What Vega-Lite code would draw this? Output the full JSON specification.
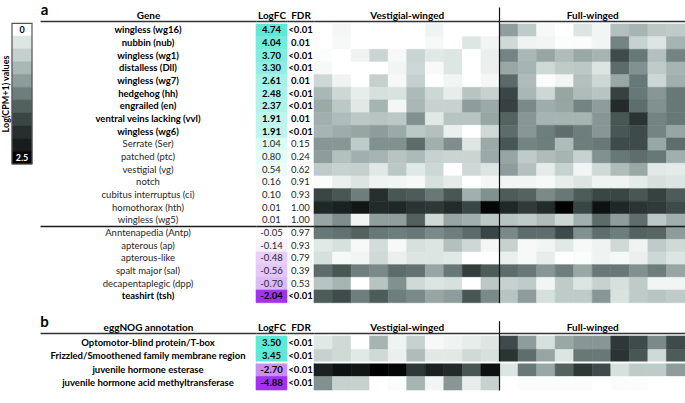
{
  "$schema": "https://vega.github.io/schema/vega-lite/v6.json",
  "width": 685,
  "height": 403,
  "padding": 0,
  "autosize": {"type": "none"},
  "config": {
    "view": {"stroke": null},
    "font": "Lato",
    "locale": {"number": {"decimal": ".", "thousands": ",", "grouping": [3], "currency": ["$", ""], "minus": "-"}},
    "axis": {"labels": false, "ticks": false, "grid": false, "domain": false, "domainColor": "#333333", "domainWidth": 1.5, "titleFont": "Lato", "titleFontWeight": "bold", "titleFontSize": 10, "titleColor": "#000000"},
    "text": {"font": "Lato"}
  },
  "resolve": {"scale": {"x": "independent", "y": "independent", "color": "independent", "stroke": "independent"}, "axis": {"x": "independent", "y": "independent"}},
  "datasets": {
    "legend": [{"v": 0}, {"v": 0.25}, {"v": 0.5}, {"v": 0.75}, {"v": 1}, {"v": 1.25}, {"v": 1.5}, {"v": 1.75}, {"v": 2}, {"v": 2.25}, {"v": 2.5}],
    "A": [
      {"gene": "wingless (wg16)", "logfc": 4.74, "fdr": "<0.01", "v1": 0, "v2": 0.08, "v3": 0, "v4": 0, "v5": 0, "v6": 0, "v7": 0.12, "v8": 0, "v9": 0, "v10": 0, "f1": 0.98, "f2": 0.55, "f3": 0.06, "f4": 0, "f5": 0.26, "f6": 0.1, "f7": 0.66, "f8": 0.78, "f9": 0.58, "f10": 0.55},
      {"gene": "nubbin (nub)", "logfc": 4.04, "fdr": "0.01", "v1": 0, "v2": 0.06, "v3": 0, "v4": 0, "v5": 0, "v6": 0, "v7": 0.06, "v8": 0, "v9": 0.25, "v10": 0.1, "f1": 0.4, "f2": 0.12, "f3": 0.1, "f4": 0.03, "f5": 0.03, "f6": 0.1, "f7": 1.2, "f8": 0.48, "f9": 0.26, "f10": 0.78},
      {"gene": "wingless (wg1)", "logfc": 3.70, "fdr": "<0.01", "v1": 0.03, "v2": 0, "v3": 0.12, "v4": 0.45, "v5": 0.06, "v6": 0.45, "v7": 0.22, "v8": 0.25, "v9": 0, "v10": 0.15, "f1": 1.2, "f2": 0.75, "f3": 0.92, "f4": 0.7, "f5": 0.9, "f6": 0.78, "f7": 1.7, "f8": 1.3, "f9": 0.66, "f10": 1.2},
      {"gene": "distalless (Dll)", "logfc": 3.30, "fdr": "<0.01", "v1": 0.06, "v2": 0, "v3": 0, "v4": 0, "v5": 0.1, "v6": 0.42, "v7": 0.05, "v8": 0.25, "v9": 0, "v10": 0.15, "f1": 0.9, "f2": 0.78, "f3": 0.4, "f4": 0.55, "f5": 0.58, "f6": 0.26, "f7": 1.4, "f8": 1.1, "f9": 0.55, "f10": 0.78},
      {"gene": "wingless (wg7)", "logfc": 2.61, "fdr": "0.01", "v1": 0.42, "v2": 0.12, "v3": 0, "v4": 0.5, "v5": 0.06, "v6": 0.5, "v7": 0, "v8": 0.1, "v9": 0, "v10": 0.08, "f1": 1.42, "f2": 0.7, "f3": 0.03, "f4": 0.1, "f5": 0.66, "f6": 0.42, "f7": 0.9, "f8": 1.3, "f9": 0.42, "f10": 0.82},
      {"gene": "hedgehog (hh)", "logfc": 2.48, "fdr": "<0.01", "v1": 0.75, "v2": 0.42, "v3": 0.18, "v4": 0.32, "v5": 0.3, "v6": 0.72, "v7": 0.42, "v8": 0.18, "v9": 0.62, "v10": 0.48, "f1": 1.75, "f2": 0.75, "f3": 0.42, "f4": 0.92, "f5": 0.7, "f6": 0.62, "f7": 1.8, "f8": 1.3, "f9": 1.05, "f10": 1.3},
      {"gene": "engrailed (en)", "logfc": 2.37, "fdr": "<0.01", "v1": 0.88, "v2": 0.58, "v3": 0.22, "v4": 0.78, "v5": 0.08, "v6": 0.75, "v7": 0.48, "v8": 0.48, "v9": 1.0, "v10": 0.88, "f1": 1.8, "f2": 1.15, "f3": 0.85, "f4": 0.92, "f5": 1.2, "f6": 1.0, "f7": 2.05, "f8": 1.38, "f9": 1.1, "f10": 1.3},
      {"gene": "ventral veins lacking (vvl)", "logfc": 1.91, "fdr": "0.01", "v1": 0.82, "v2": 0.7, "v3": 0.58, "v4": 0.62, "v5": 0.58, "v6": 1.1, "v7": 0.22, "v8": 0.62, "v9": 0.62, "v10": 0.92, "f1": 1.48, "f2": 1.05, "f3": 0.78, "f4": 0.78, "f5": 0.78, "f6": 1.05, "f7": 1.6, "f8": 1.95, "f9": 1.2, "f10": 1.3},
      {"gene": "wingless (wg6)", "logfc": 1.91, "fdr": "<0.01", "v1": 0.78, "v2": 0.85, "v3": 0.92, "v4": 1.0, "v5": 0.88, "v6": 0.58, "v7": 0.66, "v8": 0.15, "v9": 0, "v10": 0.4, "f1": 1.4, "f2": 1.05, "f3": 1.25, "f4": 1.38, "f5": 1.25, "f6": 1.05, "f7": 1.6, "f8": 1.7, "f9": 1.2, "f10": 0.92},
      {"gene": "Serrate (Ser)", "logfc": 1.04, "fdr": "0.15", "v1": 1.05, "v2": 1.05, "v3": 0.55, "v4": 1.1, "v5": 1.1, "v6": 1.4, "v7": 0.82, "v8": 1.12, "v9": 0.25, "v10": 0.88, "f1": 1.6, "f2": 1.2, "f3": 1.25, "f4": 0.7, "f5": 1.25, "f6": 1.3, "f7": 1.7, "f8": 1.7, "f9": 0.9, "f10": 1.38},
      {"gene": "patched (ptc)", "logfc": 0.80, "fdr": "0.24", "v1": 1.0, "v2": 0.66, "v3": 0.82, "v4": 0.78, "v5": 0.62, "v6": 0.72, "v7": 0.48, "v8": 0.45, "v9": 0.45, "v10": 0.88, "f1": 0.92, "f2": 0.55, "f3": 0.7, "f4": 0.78, "f5": 0.48, "f6": 1.1, "f7": 1.3, "f8": 1.38, "f9": 1.3, "f10": 0.82},
      {"gene": "vestigial (vg)", "logfc": 0.54, "fdr": "0.62", "v1": 0.55, "v2": 0.48, "v3": 0.5, "v4": 0.22, "v5": 0.58, "v6": 0.22, "v7": 0.42, "v8": 0, "v9": 0.42, "v10": 0.26, "f1": 1.0, "f2": 0.66, "f3": 0.2, "f4": 0.48, "f5": 0.1, "f6": 0.4, "f7": 0.7, "f8": 0.9, "f9": 0.22, "f10": 0.2},
      {"gene": "notch", "logfc": 0.16, "fdr": "0.91", "v1": 0.03, "v2": 0.15, "v3": 0.26, "v4": 0.12, "v5": 0.1, "v6": 0.06, "v7": 0.32, "v8": 0.2, "v9": 0, "v10": 0.08, "f1": 0.1, "f2": 0.1, "f3": 0.06, "f4": 0.18, "f5": 0.26, "f6": 0.12, "f7": 0.12, "f8": 0.2, "f9": 0.32, "f10": 0.26},
      {"gene": "cubitus interruptus (ci)", "logfc": 0.10, "fdr": "0.93", "v1": 1.75, "v2": 1.6, "v3": 1.25, "v4": 2.0, "v5": 1.6, "v6": 1.55, "v7": 1.3, "v8": 1.6, "v9": 0.82, "v10": 1.1, "f1": 1.55, "f2": 1.48, "f3": 1.15, "f4": 1.3, "f5": 1.55, "f6": 1.75, "f7": 1.75, "f8": 1.6, "f9": 1.8, "f10": 1.55},
      {"gene": "homothorax (hth)", "logfc": 0.01, "fdr": "1.00", "v1": 2.1, "v2": 2.2, "v3": 2.3, "v4": 2.05, "v5": 2.1, "v6": 1.95, "v7": 1.9, "v8": 2.05, "v9": 1.75, "v10": 2.45, "f1": 2.1, "f2": 1.88, "f3": 2.05, "f4": 2.5, "f5": 1.75, "f6": 2.35, "f7": 2.1, "f8": 1.95, "f9": 1.88, "f10": 1.7},
      {"gene": "wingless (wg5)", "logfc": 0.01, "fdr": "1.00", "v1": 0.92, "v2": 1.12, "v3": 0.1, "v4": 0.98, "v5": 0.98, "v6": 1.5, "v7": 0.4, "v8": 0.92, "v9": 0.82, "v10": 0.58, "f1": 0.62, "f2": 0.55, "f3": 0.7, "f4": 0.42, "f5": 0.82, "f6": 1.4, "f7": 1.0, "f8": 1.38, "f9": 0.58, "f10": 0.82},
      {"gene": "Anntenapedia (Antp)", "logfc": -0.05, "fdr": "0.97", "v1": 1.3, "v2": 1.35, "v3": 1.48, "v4": 1.3, "v5": 1.25, "v6": 1.3, "v7": 1.15, "v8": 1.25, "v9": 1.4, "v10": 1.75, "f1": 1.15, "f2": 1.4, "f3": 1.38, "f4": 1.7, "f5": 1.1, "f6": 1.38, "f7": 1.25, "f8": 1.48, "f9": 1.45, "f10": 1.0},
      {"gene": "apterous (ap)", "logfc": -0.14, "fdr": "0.93", "v1": 0.22, "v2": 0.32, "v3": 0.06, "v4": 0.36, "v5": 0.06, "v6": 0.32, "v7": 0.26, "v8": 0.66, "v9": 0.42, "v10": 0.08, "f1": 0.48, "f2": 0.06, "f3": 0.1, "f4": 0.22, "f5": 0.06, "f6": 0.12, "f7": 0.4, "f8": 0.12, "f9": 0.55, "f10": 0.4},
      {"gene": "apterous-like", "logfc": -0.48, "fdr": "0.79", "v1": 0.32, "v2": 0.06, "v3": 0.1, "v4": 0.4, "v5": 0.15, "v6": 0.26, "v7": 0.26, "v8": 0.22, "v9": 0, "v10": 0, "f1": 0.15, "f2": 0.06, "f3": 0.18, "f4": 0, "f5": 0.03, "f6": 0.12, "f7": 0.06, "f8": 0.15, "f9": 0.42, "f10": 0.26},
      {"gene": "spalt major (sal)", "logfc": -0.56, "fdr": "0.39", "v1": 1.4, "v2": 1.6, "v3": 1.25, "v4": 1.15, "v5": 1.4, "v6": 1.35, "v7": 0.92, "v8": 1.3, "v9": 1.85, "v10": 1.55, "f1": 1.4, "f2": 1.3, "f3": 1.05, "f4": 1.25, "f5": 0.9, "f6": 1.3, "f7": 1.3, "f8": 1.1, "f9": 1.25, "f10": 0.92},
      {"gene": "decapentaplegic (dpp)", "logfc": -0.70, "fdr": "0.53", "v1": 0.62, "v2": 0.78, "v3": 0, "v4": 0.62, "v5": 1.1, "v6": 0.4, "v7": 0.26, "v8": 0.32, "v9": 0, "v10": 0.58, "f1": 0.48, "f2": 0.55, "f3": 0.1, "f4": 0.55, "f5": 0.26, "f6": 0.48, "f7": 0.32, "f8": 0.55, "f9": 0.1, "f10": 0.1},
      {"gene": "teashirt (tsh)", "logfc": -2.04, "fdr": "<0.01", "v1": 1.55, "v2": 1.7, "v3": 1.25, "v4": 1.55, "v5": 1.25, "v6": 1.15, "v7": 0.92, "v8": 1.0, "v9": 1.6, "v10": 1.15, "f1": 0.62, "f2": 1.0, "f3": 0.32, "f4": 0.55, "f5": 0.55, "f6": 1.05, "f7": 0.3, "f8": 0.55, "f9": 0.62, "f10": 0.55}
    ],
    "B": [
      {"gene": "Optomotor-blind protein/T-box", "logfc": 3.50, "fdr": "<0.01", "v1": 0.22, "v2": 0.4, "v3": 0, "v4": 0.78, "v5": 0.12, "v6": 0.48, "v7": 0.06, "v8": 0.12, "v9": 0.18, "v10": 0.25, "f1": 1.7, "f2": 1.0, "f3": 0.32, "f4": 0.9, "f5": 1.05, "f6": 1.05, "f7": 1.9, "f8": 1.7, "f9": 1.15, "f10": 1.7},
      {"gene": "Frizzled/Smoothened family membrane region", "logfc": 3.45, "fdr": "<0.01", "v1": 0.48, "v2": 0.4, "v3": 0.22, "v4": 0.4, "v5": 0.15, "v6": 0.7, "v7": 0.22, "v8": 0.22, "v9": 0.4, "v10": 0.32, "f1": 1.95, "f2": 1.38, "f3": 0.92, "f4": 0.26, "f5": 1.3, "f6": 1.3, "f7": 1.95, "f8": 1.6, "f9": 0.4, "f10": 1.55},
      {"gene": "juvenile hormone esterase", "logfc": -2.70, "fdr": "<0.01", "v1": 2.2, "v2": 2.35, "v3": 2.3, "v4": 2.5, "v5": 2.45, "v6": 1.9, "v7": 2.2, "v8": 2.05, "v9": 1.6, "v10": 2.35, "f1": 0.26, "f2": 1.3, "f3": 0.9, "f4": 1.48, "f5": 1.9, "f6": 1.7, "f7": 0.32, "f8": 0.55, "f9": 0.55, "f10": 1.0},
      {"gene": "juvenile hormone acid methyltransferase", "logfc": -4.88, "fdr": "<0.01", "v1": 1.1, "v2": 0.48, "v3": 0.48, "v4": 0, "v5": 0.03, "v6": 0.78, "v7": 0.1, "v8": 1.05, "v9": 0.18, "v10": 0.48, "f1": 0, "f2": 0.03, "f3": 0.03, "f4": 0.03, "f5": 0.03, "f6": 0, "f7": 0.03, "f8": 0.03, "f9": 0, "f10": 0}
    ]
  },
  "layer": [
    {
      "data": {"name": "legend"},
      "mark": {"type": "rect", "strokeWidth": 0.6},
      "encoding": {
        "x": {"datum": "L", "type": "nominal", "scale": {"type": "band", "range": [12, 32], "paddingInner": 0, "paddingOuter": 0}, "axis": null},
        "y": {"field": "v", "type": "ordinal", "scale": {"type": "band", "domain": [0, 0.25, 0.5, 0.75, 1, 1.25, 1.5, 1.75, 2, 2.25, 2.5], "range": [23.3, 164], "paddingInner": 0, "paddingOuter": 0}, "axis": {"orient": "left", "title": "Log(CPM+1) values", "titleX": 5.5, "titleY": 93.5, "titleAngle": 270, "titleAlign": "center", "titleBaseline": "middle", "titleFontSize": 9}},
        "color": {"field": "v", "type": "quantitative", "scale": {"type": "linear", "domain": [0, 0.25, 0.5, 0.75, 1, 1.25, 1.5, 1.75, 2, 2.25, 2.5], "range": ["#ffffff", "#dde6e3", "#c5d0ce", "#a9b7b5", "#8e9d9b", "#6e7e7c", "#52605e", "#3a4645", "#262f2e", "#171d1c", "#000000"], "interpolate": "rgb"}, "legend": null},
        "stroke": {"field": "v", "type": "quantitative", "scale": {"type": "linear", "domain": [0, 0.25, 0.5, 0.75, 1, 1.25, 1.5, 1.75, 2, 2.25, 2.5], "range": ["#ffffff", "#dde6e3", "#c5d0ce", "#a9b7b5", "#8e9d9b", "#6e7e7c", "#52605e", "#3a4645", "#262f2e", "#171d1c", "#000000"], "interpolate": "rgb"}, "legend": null}
      }
    },
    {
      "data": {"name": "legend"},
      "transform": [{"filter": "datum.v == 0 || datum.v == 2.5"}],
      "mark": {"type": "text", "fontWeight": "bold", "fontSize": 9},
      "encoding": {
        "x": {"datum": "L", "type": "nominal", "scale": {"type": "band", "range": [12, 32], "paddingInner": 0, "paddingOuter": 0}, "axis": null},
        "y": {"field": "v", "type": "ordinal", "scale": {"type": "band", "domain": [0, 0.25, 0.5, 0.75, 1, 1.25, 1.5, 1.75, 2, 2.25, 2.5], "range": [23.3, 164], "paddingInner": 0, "paddingOuter": 0}, "axis": null},
        "text": {"field": "v", "type": "nominal"},
        "color": {"condition": {"test": "datum.v > 1", "value": "#ffffff"}, "value": "#000000"}
      }
    },
    {
      "data": {"values": [{}]},
      "mark": {"type": "rect", "filled": false, "stroke": "#555555", "strokeWidth": 1.2},
      "encoding": {
        "x": {"datum": "box", "type": "nominal", "scale": {"type": "band", "range": [12, 32], "paddingInner": 0, "paddingOuter": 0}, "axis": null},
        "y": {"datum": "box", "type": "nominal", "scale": {"type": "band", "range": [23.3, 164], "paddingInner": 0, "paddingOuter": 0}, "axis": null}
      }
    },
    {
      "data": {"name": "A"},
      "transform": [{"filter": "datum.fdr == '<0.01' || datum.fdr == '0.01'"}],
      "mark": {"type": "text", "fontWeight": "bold", "fontSize": 9.5, "color": "#000000"},
      "encoding": {
        "x": {"datum": "Gene", "type": "nominal", "scale": {"type": "band", "range": [40, 256], "paddingInner": 0, "paddingOuter": 0}, "axis": {"orient": "top", "offset": -21, "domain": true, "title": "Gene", "titleY": -3, "titleBaseline": "alphabetic"}},
        "y": {"field": "gene", "type": "nominal", "scale": {"type": "band", "domain": ["wingless (wg16)", "nubbin (nub)", "wingless (wg1)", "distalless (Dll)", "wingless (wg7)", "hedgehog (hh)", "engrailed (en)", "ventral veins lacking (vvl)", "wingless (wg6)", "Serrate (Ser)", "patched (ptc)", "vestigial (vg)", "notch", "cubitus interruptus (ci)", "homothorax (hth)", "wingless (wg5)", "Anntenapedia (Antp)", "apterous (ap)", "apterous-like", "spalt major (sal)", "decapentaplegic (dpp)", "teashirt (tsh)"], "range": [21, 302.7], "paddingInner": 0, "paddingOuter": 0.1184, "align": 1}, "axis": {"orient": "left", "title": "a", "titleX": 44, "titleY": 9.5, "titleAngle": 0, "titleAlign": "center", "titleBaseline": "middle", "titleFontSize": 15, "grid": true, "values": ["Anntenapedia (Antp)"], "bandPosition": 0, "gridColor": "#1a1a1a", "gridWidth": 1.5, "zindex": 1}},
        "text": {"field": "gene"}
      }
    },
    {
      "data": {"name": "A"},
      "transform": [{"filter": "!(datum.fdr == '<0.01' || datum.fdr == '0.01')"}],
      "mark": {"type": "text", "fontSize": 9.5, "color": "#262626"},
      "encoding": {
        "x": {"datum": "Gene", "type": "nominal", "scale": {"type": "band", "range": [40, 256], "paddingInner": 0, "paddingOuter": 0}, "axis": null},
        "y": {"field": "gene", "type": "nominal", "scale": {"type": "band", "domain": ["wingless (wg16)", "nubbin (nub)", "wingless (wg1)", "distalless (Dll)", "wingless (wg7)", "hedgehog (hh)", "engrailed (en)", "ventral veins lacking (vvl)", "wingless (wg6)", "Serrate (Ser)", "patched (ptc)", "vestigial (vg)", "notch", "cubitus interruptus (ci)", "homothorax (hth)", "wingless (wg5)", "Anntenapedia (Antp)", "apterous (ap)", "apterous-like", "spalt major (sal)", "decapentaplegic (dpp)", "teashirt (tsh)"], "range": [21, 302.7], "paddingInner": 0, "paddingOuter": 0.1184, "align": 1}, "axis": null},
        "text": {"field": "gene"}
      }
    },
    {
      "data": {"name": "A"},
      "mark": {"type": "rect", "strokeWidth": 0.6},
      "encoding": {
        "x": {"datum": "LogFC", "type": "nominal", "scale": {"type": "band", "range": [256, 287], "paddingInner": 0, "paddingOuter": 0}, "axis": {"orient": "top", "offset": -21, "domain": true, "title": "LogFC", "titleY": -3, "titleBaseline": "alphabetic"}},
        "y": {"field": "gene", "type": "nominal", "scale": {"type": "band", "domain": ["wingless (wg16)", "nubbin (nub)", "wingless (wg1)", "distalless (Dll)", "wingless (wg7)", "hedgehog (hh)", "engrailed (en)", "ventral veins lacking (vvl)", "wingless (wg6)", "Serrate (Ser)", "patched (ptc)", "vestigial (vg)", "notch", "cubitus interruptus (ci)", "homothorax (hth)", "wingless (wg5)", "Anntenapedia (Antp)", "apterous (ap)", "apterous-like", "spalt major (sal)", "decapentaplegic (dpp)", "teashirt (tsh)"], "range": [21, 302.7], "paddingInner": 0, "paddingOuter": 0.1184, "align": 1}, "axis": {"orient": "left", "title": null, "grid": true, "values": ["Anntenapedia (Antp)"], "bandPosition": 0, "gridColor": "#1a1a1a", "gridWidth": 1.5, "zindex": 1}},
        "color": {"field": "logfc", "type": "quantitative", "scale": {"domain": [-2.04, 0, 4.74], "range": ["#a032f0", "#ffffff", "#5ee8d6"], "interpolate": "rgb"}, "legend": null},
        "stroke": {"field": "logfc", "type": "quantitative", "scale": {"domain": [-2.04, 0, 4.74], "range": ["#a032f0", "#ffffff", "#5ee8d6"], "interpolate": "rgb"}, "legend": null}
      }
    },
    {
      "data": {"name": "A"},
      "transform": [{"filter": "datum.fdr == '<0.01' || datum.fdr == '0.01'"}],
      "mark": {"type": "text", "fontWeight": "bold", "fontSize": 9.5, "color": "#000000"},
      "encoding": {
        "x": {"datum": "LogFC", "type": "nominal", "scale": {"type": "band", "range": [256, 287], "paddingInner": 0, "paddingOuter": 0}, "axis": null},
        "y": {"field": "gene", "type": "nominal", "scale": {"type": "band", "domain": ["wingless (wg16)", "nubbin (nub)", "wingless (wg1)", "distalless (Dll)", "wingless (wg7)", "hedgehog (hh)", "engrailed (en)", "ventral veins lacking (vvl)", "wingless (wg6)", "Serrate (Ser)", "patched (ptc)", "vestigial (vg)", "notch", "cubitus interruptus (ci)", "homothorax (hth)", "wingless (wg5)", "Anntenapedia (Antp)", "apterous (ap)", "apterous-like", "spalt major (sal)", "decapentaplegic (dpp)", "teashirt (tsh)"], "range": [21, 302.7], "paddingInner": 0, "paddingOuter": 0.1184, "align": 1}, "axis": null},
        "text": {"field": "logfc", "type": "quantitative", "format": ".2f"}
      }
    },
    {
      "data": {"name": "A"},
      "transform": [{"filter": "!(datum.fdr == '<0.01' || datum.fdr == '0.01')"}],
      "mark": {"type": "text", "fontSize": 9.5, "color": "#262626"},
      "encoding": {
        "x": {"datum": "LogFC", "type": "nominal", "scale": {"type": "band", "range": [256, 287], "paddingInner": 0, "paddingOuter": 0}, "axis": null},
        "y": {"field": "gene", "type": "nominal", "scale": {"type": "band", "domain": ["wingless (wg16)", "nubbin (nub)", "wingless (wg1)", "distalless (Dll)", "wingless (wg7)", "hedgehog (hh)", "engrailed (en)", "ventral veins lacking (vvl)", "wingless (wg6)", "Serrate (Ser)", "patched (ptc)", "vestigial (vg)", "notch", "cubitus interruptus (ci)", "homothorax (hth)", "wingless (wg5)", "Anntenapedia (Antp)", "apterous (ap)", "apterous-like", "spalt major (sal)", "decapentaplegic (dpp)", "teashirt (tsh)"], "range": [21, 302.7], "paddingInner": 0, "paddingOuter": 0.1184, "align": 1}, "axis": null},
        "text": {"field": "logfc", "type": "quantitative", "format": ".2f"}
      }
    },
    {
      "data": {"name": "A"},
      "transform": [{"filter": "datum.fdr == '<0.01' || datum.fdr == '0.01'"}],
      "mark": {"type": "text", "fontWeight": "bold", "fontSize": 9.5, "color": "#000000"},
      "encoding": {
        "x": {"datum": "FDR", "type": "nominal", "scale": {"type": "band", "range": [287, 314], "paddingInner": 0, "paddingOuter": 0}, "axis": {"orient": "top", "offset": -21, "domain": true, "title": "FDR", "titleY": -3, "titleBaseline": "alphabetic"}},
        "y": {"field": "gene", "type": "nominal", "scale": {"type": "band", "domain": ["wingless (wg16)", "nubbin (nub)", "wingless (wg1)", "distalless (Dll)", "wingless (wg7)", "hedgehog (hh)", "engrailed (en)", "ventral veins lacking (vvl)", "wingless (wg6)", "Serrate (Ser)", "patched (ptc)", "vestigial (vg)", "notch", "cubitus interruptus (ci)", "homothorax (hth)", "wingless (wg5)", "Anntenapedia (Antp)", "apterous (ap)", "apterous-like", "spalt major (sal)", "decapentaplegic (dpp)", "teashirt (tsh)"], "range": [21, 302.7], "paddingInner": 0, "paddingOuter": 0.1184, "align": 1}, "axis": {"orient": "left", "title": null, "grid": true, "values": ["Anntenapedia (Antp)"], "bandPosition": 0, "gridColor": "#1a1a1a", "gridWidth": 1.5, "zindex": 1}},
        "text": {"field": "fdr"}
      }
    },
    {
      "data": {"name": "A"},
      "transform": [{"filter": "!(datum.fdr == '<0.01' || datum.fdr == '0.01')"}],
      "mark": {"type": "text", "fontSize": 9.5, "color": "#262626"},
      "encoding": {
        "x": {"datum": "FDR", "type": "nominal", "scale": {"type": "band", "range": [287, 314], "paddingInner": 0, "paddingOuter": 0}, "axis": null},
        "y": {"field": "gene", "type": "nominal", "scale": {"type": "band", "domain": ["wingless (wg16)", "nubbin (nub)", "wingless (wg1)", "distalless (Dll)", "wingless (wg7)", "hedgehog (hh)", "engrailed (en)", "ventral veins lacking (vvl)", "wingless (wg6)", "Serrate (Ser)", "patched (ptc)", "vestigial (vg)", "notch", "cubitus interruptus (ci)", "homothorax (hth)", "wingless (wg5)", "Anntenapedia (Antp)", "apterous (ap)", "apterous-like", "spalt major (sal)", "decapentaplegic (dpp)", "teashirt (tsh)"], "range": [21, 302.7], "paddingInner": 0, "paddingOuter": 0.1184, "align": 1}, "axis": null},
        "text": {"field": "fdr"}
      }
    },
    {
      "data": {"name": "A"},
      "transform": [{"fold": ["v1", "v2", "v3", "v4", "v5", "v6", "v7", "v8", "v9", "v10"], "as": ["sample", "expr"]}],
      "mark": {"type": "rect", "strokeWidth": 0.6},
      "encoding": {
        "x": {"field": "sample", "type": "nominal", "scale": {"type": "band", "domain": ["v1", "v2", "v3", "v4", "v5", "v6", "v7", "v8", "v9", "v10"], "range": [314, 499.5], "paddingInner": 0, "paddingOuter": 0}, "axis": {"orient": "top", "offset": -21, "domain": true, "title": "Vestigial-winged", "titleY": -3, "titleBaseline": "alphabetic"}},
        "y": {"field": "gene", "type": "nominal", "scale": {"type": "band", "domain": ["wingless (wg16)", "nubbin (nub)", "wingless (wg1)", "distalless (Dll)", "wingless (wg7)", "hedgehog (hh)", "engrailed (en)", "ventral veins lacking (vvl)", "wingless (wg6)", "Serrate (Ser)", "patched (ptc)", "vestigial (vg)", "notch", "cubitus interruptus (ci)", "homothorax (hth)", "wingless (wg5)", "Anntenapedia (Antp)", "apterous (ap)", "apterous-like", "spalt major (sal)", "decapentaplegic (dpp)", "teashirt (tsh)"], "range": [21, 302.7], "paddingInner": 0, "paddingOuter": 0.1184, "align": 1}, "axis": {"orient": "left", "title": null, "grid": true, "values": ["Anntenapedia (Antp)"], "bandPosition": 0, "gridColor": "#1a1a1a", "gridWidth": 1.5, "zindex": 1}},
        "color": {"field": "expr", "type": "quantitative", "scale": {"type": "linear", "domain": [0, 0.25, 0.5, 0.75, 1, 1.25, 1.5, 1.75, 2, 2.25, 2.5], "range": ["#ffffff", "#dde6e3", "#c5d0ce", "#a9b7b5", "#8e9d9b", "#6e7e7c", "#52605e", "#3a4645", "#262f2e", "#171d1c", "#000000"], "interpolate": "rgb"}, "legend": null},
        "stroke": {"field": "expr", "type": "quantitative", "scale": {"type": "linear", "domain": [0, 0.25, 0.5, 0.75, 1, 1.25, 1.5, 1.75, 2, 2.25, 2.5], "range": ["#ffffff", "#dde6e3", "#c5d0ce", "#a9b7b5", "#8e9d9b", "#6e7e7c", "#52605e", "#3a4645", "#262f2e", "#171d1c", "#000000"], "interpolate": "rgb"}, "legend": null}
      }
    },
    {
      "data": {"name": "A"},
      "transform": [{"fold": ["f1", "f2", "f3", "f4", "f5", "f6", "f7", "f8", "f9", "f10"], "as": ["sample", "expr"]}],
      "mark": {"type": "rect", "strokeWidth": 0.6},
      "encoding": {
        "x": {"field": "sample", "type": "nominal", "scale": {"type": "band", "domain": ["f1", "f2", "f3", "f4", "f5", "f6", "f7", "f8", "f9", "f10"], "range": [499.5, 685], "paddingInner": 0, "paddingOuter": 0}, "axis": {"orient": "top", "offset": -21, "domain": true, "title": "Full-winged", "titleY": -3, "titleBaseline": "alphabetic", "ticks": true, "values": ["f1"], "bandPosition": 0, "tickSize": 14, "tickColor": "#111111", "tickWidth": 1.2, "grid": true, "gridColor": "#111111", "gridWidth": 1.2, "zindex": 1}},
        "y": {"field": "gene", "type": "nominal", "scale": {"type": "band", "domain": ["wingless (wg16)", "nubbin (nub)", "wingless (wg1)", "distalless (Dll)", "wingless (wg7)", "hedgehog (hh)", "engrailed (en)", "ventral veins lacking (vvl)", "wingless (wg6)", "Serrate (Ser)", "patched (ptc)", "vestigial (vg)", "notch", "cubitus interruptus (ci)", "homothorax (hth)", "wingless (wg5)", "Anntenapedia (Antp)", "apterous (ap)", "apterous-like", "spalt major (sal)", "decapentaplegic (dpp)", "teashirt (tsh)"], "range": [21, 302.7], "paddingInner": 0, "paddingOuter": 0.1184, "align": 1}, "axis": {"orient": "left", "title": null, "grid": true, "values": ["Anntenapedia (Antp)"], "bandPosition": 0, "gridColor": "#1a1a1a", "gridWidth": 1.5, "zindex": 1}},
        "color": {"field": "expr", "type": "quantitative", "scale": {"type": "linear", "domain": [0, 0.25, 0.5, 0.75, 1, 1.25, 1.5, 1.75, 2, 2.25, 2.5], "range": ["#ffffff", "#dde6e3", "#c5d0ce", "#a9b7b5", "#8e9d9b", "#6e7e7c", "#52605e", "#3a4645", "#262f2e", "#171d1c", "#000000"], "interpolate": "rgb"}, "legend": null},
        "stroke": {"field": "expr", "type": "quantitative", "scale": {"type": "linear", "domain": [0, 0.25, 0.5, 0.75, 1, 1.25, 1.5, 1.75, 2, 2.25, 2.5], "range": ["#ffffff", "#dde6e3", "#c5d0ce", "#a9b7b5", "#8e9d9b", "#6e7e7c", "#52605e", "#3a4645", "#262f2e", "#171d1c", "#000000"], "interpolate": "rgb"}, "legend": null}
      }
    },
    {
      "data": {"name": "B"},
      "mark": {"type": "text", "fontWeight": "bold", "fontSize": 9.5, "color": "#000000"},
      "encoding": {
        "x": {"datum": "Gene", "type": "nominal", "scale": {"type": "band", "range": [40, 256], "paddingInner": 0, "paddingOuter": 0}, "axis": {"orient": "top", "offset": -333, "domain": true, "title": "eggNOG annotation", "titleY": -2.5, "titleBaseline": "alphabetic"}},
        "y": {"field": "gene", "type": "nominal", "scale": {"type": "band", "domain": ["Optomotor-blind protein/T-box", "Frizzled/Smoothened family membrane region", "juvenile hormone esterase", "juvenile hormone acid methyltransferase"], "range": [333, 390], "paddingInner": 0, "paddingOuter": 0.1111, "align": 1}, "axis": {"orient": "left", "title": "b", "titleX": 44, "titleY": 321.5, "titleAngle": 0, "titleAlign": "center", "titleBaseline": "middle", "titleFontSize": 15, "grid": true, "values": ["juvenile hormone esterase"], "bandPosition": 0, "gridColor": "#ffffff", "gridWidth": 2, "zindex": 1}},
        "text": {"field": "gene"}
      }
    },
    {
      "data": {"name": "B"},
      "mark": {"type": "rect", "strokeWidth": 0.6},
      "encoding": {
        "x": {"datum": "LogFC", "type": "nominal", "scale": {"type": "band", "range": [256, 287], "paddingInner": 0, "paddingOuter": 0}, "axis": {"orient": "top", "offset": -333, "domain": true, "title": "LogFC", "titleY": -2.5, "titleBaseline": "alphabetic"}},
        "y": {"field": "gene", "type": "nominal", "scale": {"type": "band", "domain": ["Optomotor-blind protein/T-box", "Frizzled/Smoothened family membrane region", "juvenile hormone esterase", "juvenile hormone acid methyltransferase"], "range": [333, 390], "paddingInner": 0, "paddingOuter": 0.1111, "align": 1}, "axis": {"orient": "left", "title": null, "grid": true, "values": ["juvenile hormone esterase"], "bandPosition": 0, "gridColor": "#ffffff", "gridWidth": 2, "zindex": 1}},
        "color": {"field": "logfc", "type": "quantitative", "scale": {"domain": [-4.88, 0, 3.5], "range": ["#a032f0", "#ffffff", "#5ee8d6"], "interpolate": "rgb"}, "legend": null},
        "stroke": {"field": "logfc", "type": "quantitative", "scale": {"domain": [-4.88, 0, 3.5], "range": ["#a032f0", "#ffffff", "#5ee8d6"], "interpolate": "rgb"}, "legend": null}
      }
    },
    {
      "data": {"name": "B"},
      "mark": {"type": "text", "fontWeight": "bold", "fontSize": 9.5, "color": "#000000"},
      "encoding": {
        "x": {"datum": "LogFC", "type": "nominal", "scale": {"type": "band", "range": [256, 287], "paddingInner": 0, "paddingOuter": 0}, "axis": null},
        "y": {"field": "gene", "type": "nominal", "scale": {"type": "band", "domain": ["Optomotor-blind protein/T-box", "Frizzled/Smoothened family membrane region", "juvenile hormone esterase", "juvenile hormone acid methyltransferase"], "range": [333, 390], "paddingInner": 0, "paddingOuter": 0.1111, "align": 1}, "axis": null},
        "text": {"field": "logfc", "type": "quantitative", "format": ".2f"}
      }
    },
    {
      "data": {"name": "B"},
      "mark": {"type": "text", "fontWeight": "bold", "fontSize": 9.5, "color": "#000000"},
      "encoding": {
        "x": {"datum": "FDR", "type": "nominal", "scale": {"type": "band", "range": [287, 314], "paddingInner": 0, "paddingOuter": 0}, "axis": {"orient": "top", "offset": -333, "domain": true, "title": "FDR", "titleY": -2.5, "titleBaseline": "alphabetic"}},
        "y": {"field": "gene", "type": "nominal", "scale": {"type": "band", "domain": ["Optomotor-blind protein/T-box", "Frizzled/Smoothened family membrane region", "juvenile hormone esterase", "juvenile hormone acid methyltransferase"], "range": [333, 390], "paddingInner": 0, "paddingOuter": 0.1111, "align": 1}, "axis": {"orient": "left", "title": null, "grid": true, "values": ["juvenile hormone esterase"], "bandPosition": 0, "gridColor": "#ffffff", "gridWidth": 2, "zindex": 1}},
        "text": {"field": "fdr"}
      }
    },
    {
      "data": {"name": "B"},
      "transform": [{"fold": ["v1", "v2", "v3", "v4", "v5", "v6", "v7", "v8", "v9", "v10"], "as": ["sample", "expr"]}],
      "mark": {"type": "rect", "strokeWidth": 0.6},
      "encoding": {
        "x": {"field": "sample", "type": "nominal", "scale": {"type": "band", "domain": ["v1", "v2", "v3", "v4", "v5", "v6", "v7", "v8", "v9", "v10"], "range": [314, 499.5], "paddingInner": 0, "paddingOuter": 0}, "axis": {"orient": "top", "offset": -333, "domain": true, "title": "Vestigial-winged", "titleY": -2.5, "titleBaseline": "alphabetic"}},
        "y": {"field": "gene", "type": "nominal", "scale": {"type": "band", "domain": ["Optomotor-blind protein/T-box", "Frizzled/Smoothened family membrane region", "juvenile hormone esterase", "juvenile hormone acid methyltransferase"], "range": [333, 390], "paddingInner": 0, "paddingOuter": 0.1111, "align": 1}, "axis": {"orient": "left", "title": null, "grid": true, "values": ["juvenile hormone esterase"], "bandPosition": 0, "gridColor": "#ffffff", "gridWidth": 2, "zindex": 1}},
        "color": {"field": "expr", "type": "quantitative", "scale": {"type": "linear", "domain": [0, 0.25, 0.5, 0.75, 1, 1.25, 1.5, 1.75, 2, 2.25, 2.5], "range": ["#ffffff", "#dde6e3", "#c5d0ce", "#a9b7b5", "#8e9d9b", "#6e7e7c", "#52605e", "#3a4645", "#262f2e", "#171d1c", "#000000"], "interpolate": "rgb"}, "legend": null},
        "stroke": {"field": "expr", "type": "quantitative", "scale": {"type": "linear", "domain": [0, 0.25, 0.5, 0.75, 1, 1.25, 1.5, 1.75, 2, 2.25, 2.5], "range": ["#ffffff", "#dde6e3", "#c5d0ce", "#a9b7b5", "#8e9d9b", "#6e7e7c", "#52605e", "#3a4645", "#262f2e", "#171d1c", "#000000"], "interpolate": "rgb"}, "legend": null}
      }
    },
    {
      "data": {"name": "B"},
      "transform": [{"fold": ["f1", "f2", "f3", "f4", "f5", "f6", "f7", "f8", "f9", "f10"], "as": ["sample", "expr"]}],
      "mark": {"type": "rect", "strokeWidth": 0.6},
      "encoding": {
        "x": {"field": "sample", "type": "nominal", "scale": {"type": "band", "domain": ["f1", "f2", "f3", "f4", "f5", "f6", "f7", "f8", "f9", "f10"], "range": [499.5, 685], "paddingInner": 0, "paddingOuter": 0}, "axis": {"orient": "top", "offset": -333, "domain": true, "title": "Full-winged", "titleY": -2.5, "titleBaseline": "alphabetic", "ticks": true, "values": ["f1"], "bandPosition": 0, "tickSize": 12.3, "tickColor": "#111111", "tickWidth": 1.2, "grid": true, "gridColor": "#111111", "gridWidth": 1.2, "zindex": 1}},
        "y": {"field": "gene", "type": "nominal", "scale": {"type": "band", "domain": ["Optomotor-blind protein/T-box", "Frizzled/Smoothened family membrane region", "juvenile hormone esterase", "juvenile hormone acid methyltransferase"], "range": [333, 390], "paddingInner": 0, "paddingOuter": 0.1111, "align": 1}, "axis": {"orient": "left", "title": null, "grid": true, "values": ["juvenile hormone esterase"], "bandPosition": 0, "gridColor": "#ffffff", "gridWidth": 2, "zindex": 1}},
        "color": {"field": "expr", "type": "quantitative", "scale": {"type": "linear", "domain": [0, 0.25, 0.5, 0.75, 1, 1.25, 1.5, 1.75, 2, 2.25, 2.5], "range": ["#ffffff", "#dde6e3", "#c5d0ce", "#a9b7b5", "#8e9d9b", "#6e7e7c", "#52605e", "#3a4645", "#262f2e", "#171d1c", "#000000"], "interpolate": "rgb"}, "legend": null},
        "stroke": {"field": "expr", "type": "quantitative", "scale": {"type": "linear", "domain": [0, 0.25, 0.5, 0.75, 1, 1.25, 1.5, 1.75, 2, 2.25, 2.5], "range": ["#ffffff", "#dde6e3", "#c5d0ce", "#a9b7b5", "#8e9d9b", "#6e7e7c", "#52605e", "#3a4645", "#262f2e", "#171d1c", "#000000"], "interpolate": "rgb"}, "legend": null}
      }
    }
  ]
}
